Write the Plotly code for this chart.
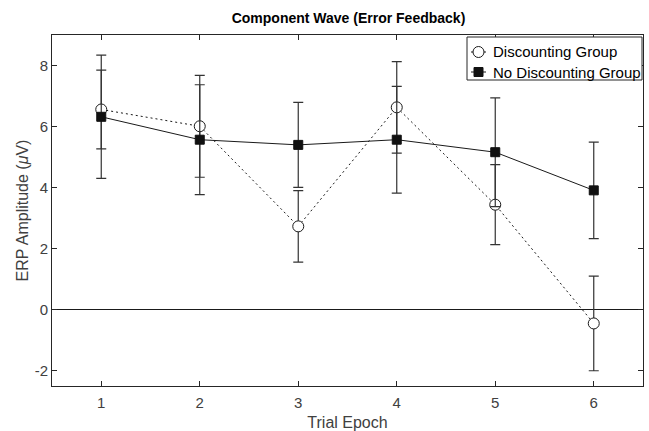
import plotly.graph_objects as go

epochs = [1, 2, 3, 4, 5, 6]
disc_vals = [6.56, 6.01, 2.73, 6.63, 3.44, -0.45]
disc_err = [1.29, 1.67, 1.17, 1.50, 1.31, 1.55]
nodisc_vals = [6.32, 5.57, 5.40, 5.57, 5.16, 3.91]
nodisc_err = [2.02, 1.80, 1.39, 1.75, 1.78, 1.58]
series_names = ["Discounting Group", "No Discounting Group"]
x_ticks = [1, 2, 3, 4, 5, 6]
y_ticks = [-2, 0, 2, 4, 6, 8]

FONT = "Liberation Sans, Arial, sans-serif"
AX = "#262626"
W, H = 649, 431
ML, MR, MT, MB = 52, 6, 35, 45
PW, PH = W - ML - MR, H - MT - MB


def px(x):
    return (x - ML) / PW


def py(y):
    return (H - MB - y) / PH


fig = go.Figure()
fig.add_trace(go.Scatter(
    x=epochs, y=disc_vals, name=series_names[0], mode="lines+markers", showlegend=False,
    line=dict(color="#1a1a1a", width=1, dash="2px,3px"),
    marker=dict(symbol="circle", size=11, color="white", line=dict(color="#1a1a1a", width=1)),
    error_y=dict(type="data", array=disc_err, visible=True, color="#333333", thickness=1.2, width=5),
))
fig.add_trace(go.Scatter(
    x=epochs, y=nodisc_vals, name=series_names[1], mode="lines+markers", showlegend=False,
    line=dict(color="#1a1a1a", width=1),
    marker=dict(symbol="square", size=9, color="#111111", line=dict(color="#111111", width=1)),
    error_y=dict(type="data", array=nodisc_err, visible=True, color="#333333", thickness=1.2, width=5),
))

# legend box (MATLAB-style compact legend)
shapes = [dict(type="rect", xref="paper", yref="paper",
               x0=px(467), x1=px(642), y0=py(80), y1=py(37),
               line=dict(color=AX, width=1), fillcolor="white", layer="above")]
annotations = []
rows = [52, 72]
for i, yy in enumerate(rows):
    shapes.append(dict(type="line", xref="paper", yref="paper",
                       x0=px(471), x1=px(486), y0=py(yy), y1=py(yy),
                       line=dict(color="#1a1a1a", width=1), layer="above"))
    if i == 0:
        shapes.append(dict(type="circle", xref="paper", yref="paper",
                           x0=px(473), x1=px(484), y0=py(yy + 5.5), y1=py(yy - 5.5),
                           line=dict(color="#1a1a1a", width=1), fillcolor="white", layer="above"))
    else:
        shapes.append(dict(type="rect", xref="paper", yref="paper",
                           x0=px(474), x1=px(483), y0=py(yy + 4.5), y1=py(yy - 4.5),
                           line=dict(color="#111111", width=1), fillcolor="#111111", layer="above"))
    annotations.append(dict(text=series_names[i], xref="paper", yref="paper",
                            x=px(491), y=py(yy), xanchor="left", yanchor="middle",
                            showarrow=False, font=dict(family=FONT, size=15, color="black")))

fig.update_layout(
    width=W, height=H,
    margin=dict(l=ML, r=MR, t=MT, b=MB),
    paper_bgcolor="white", plot_bgcolor="white",
    font=dict(family=FONT, size=15, color=AX),
    title=dict(text="<b>Component Wave (Error Feedback)</b>", x=0.537, xanchor="center",
               y=0.958, yanchor="middle", font=dict(family=FONT, size=14, color="black")),
    showlegend=False,
    shapes=shapes,
    annotations=annotations,
)
fig.update_xaxes(
    range=[0.5, 6.5], tickvals=x_ticks, ticktext=[str(v) for v in x_ticks],
    ticks="inside", ticklen=5, tickcolor=AX, showline=True, linecolor=AX, linewidth=1,
    mirror="ticks", showgrid=False, zeroline=False,
    tickfont=dict(size=15, color="#404040"), ticklabelstandoff=3,
    title=dict(text="Trial Epoch", font=dict(size=16, color="#404040"), standoff=12),
    automargin=False,
)
fig.update_yaxes(
    range=[-2.5, 9], tickvals=y_ticks, ticktext=[str(v) for v in y_ticks],
    ticks="inside", ticklen=5, tickcolor=AX, showline=True, linecolor=AX, linewidth=1,
    mirror="ticks", showgrid=False, zeroline=True, zerolinecolor="#1a1a1a", zerolinewidth=1,
    tickfont=dict(size=15, color="#404040"),
    title=dict(text="ERP Amplitude (<i>μ</i>V)", font=dict(size=16, color="#404040"), standoff=2),
    automargin=False,
)

fig.write_html("out.html")
